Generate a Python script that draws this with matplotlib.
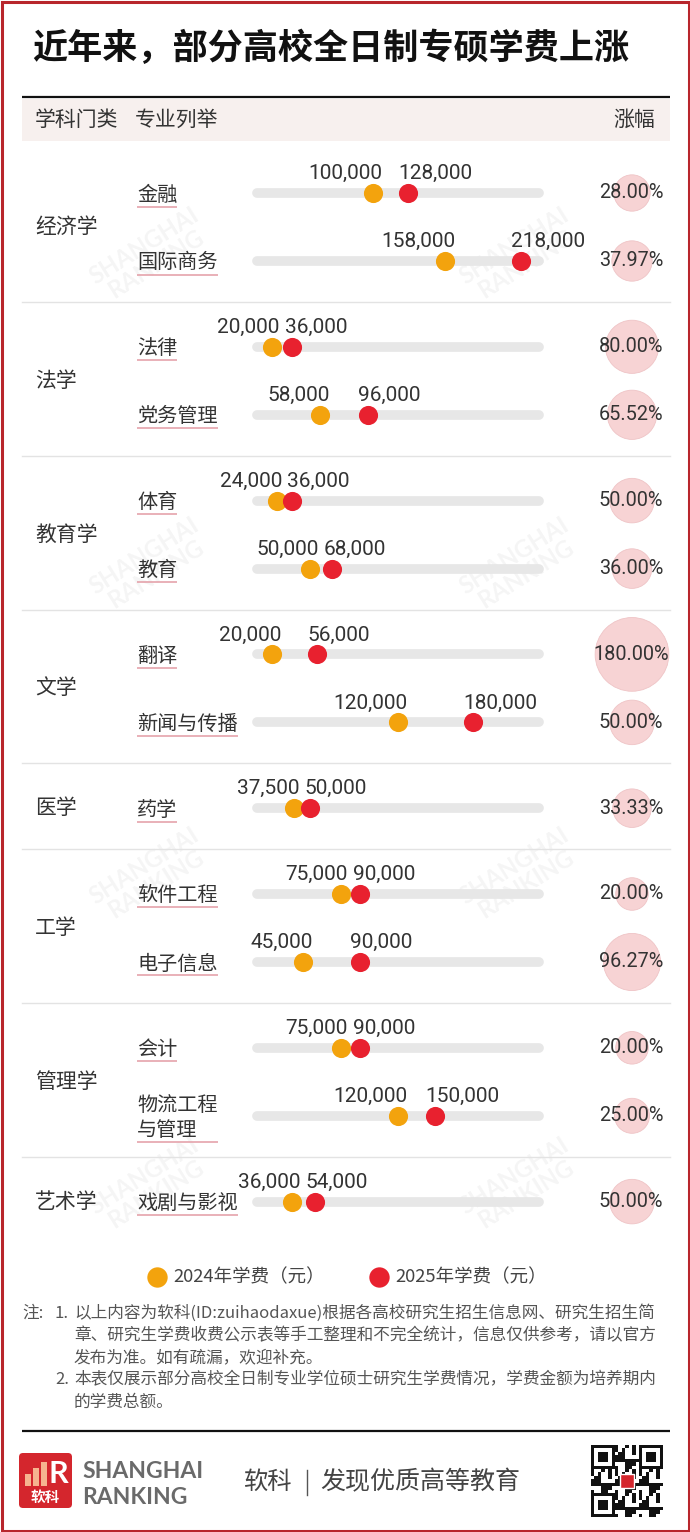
import matplotlib
matplotlib.use('Agg')
import matplotlib.pyplot as plt
from matplotlib.patches import FancyBboxPatch, Rectangle, Circle
import numpy as np

plt.rcParams['font.family'] = ['Noto Sans CJK SC', 'DejaVu Sans']

# ---------------- data ----------------
title = '近年来，部分高校全日制专硕学费上涨'
header_labels = ['学科门类', '专业列举', '涨幅']
groups = ['经济学', '经济学', '法学', '法学', '教育学', '教育学', '文学', '文学',
          '医学', '工学', '工学', '管理学', '管理学', '艺术学']
majors = ['金融', '国际商务', '法律', '党务管理', '体育', '教育', '翻译', '新闻与传播',
          '药学', '软件工程', '电子信息', '会计', '物流工程\n与管理', '戏剧与影视']
fee_2024 = [100000, 158000, 20000, 58000, 24000, 50000, 20000, 120000,
            37500, 75000, 45000, 75000, 120000, 36000]
fee_2025 = [128000, 218000, 36000, 96000, 36000, 68000, 56000, 180000,
            50000, 90000, 90000, 90000, 150000, 54000]
increase_pct = [28.00, 37.97, 80.00, 65.52, 50.00, 36.00, 180.00, 50.00,
                33.33, 20.00, 96.27, 20.00, 25.00, 50.00]
legend_labels = ['2024年学费（元）', '2025年学费（元）']
note_prefix = '注:'
notes = [('1.', ['以上内容为软科(ID:zuihaodaxue)根据各高校研究生招生信息网、研究生招生简',
                 '章、研究生学费收费公示表等手工整理和不完全统计，信息仅供参考，请以官方',
                 '发布为准。如有疏漏，欢迎补充。']),
         ('2.', ['本表仅展示部分高校全日制专业学位硕士研究生学费情况，学费金额为培养期内',
                 '的学费总额。'])]
footer_brand = ['SHANGHAI', 'RANKING']
footer_slogan = ['软科', '发现优质高等教育']

# ---------------- style ----------------
W, H = 690, 1532
C_ORANGE = '#f3a30d'
C_RED = '#e8212f'
C_TRACK = '#e7e7e7'
C_PINK = '#f7d3d4'
C_TEXT = '#333333'
C_BORDER = '#b8262c'

fig = plt.figure(figsize=(W / 100, H / 100), dpi=100)
fig.patch.set_facecolor('white')

ax = fig.add_axes([0, 0, 1, 1])
ax.set_xlim(0, W)
ax.set_ylim(H, 0)
ax.axis('off')

# border
ax.add_patch(Rectangle((1.5, 1.5), W - 3, H - 3, fill=False, edgecolor=C_BORDER, lw=2.2, zorder=20))

# title
ax.text(32, 48, title, fontsize=25.3, fontweight='bold', color='#111111', va='center', ha='left')

# header
ax.plot([22, 670], [97, 97], color='#111111', lw=1.6, solid_capstyle='butt')
ax.add_patch(Rectangle((22, 98.5), 648, 42, facecolor='#f7f0ee', edgecolor='none'))
ax.text(35, 120, header_labels[0], fontsize=15, color=C_TEXT, va='center')
ax.text(135, 120, header_labels[1], fontsize=15, color=C_TEXT, va='center')
ax.text(655, 120, header_labels[2], fontsize=15, color=C_TEXT, va='center', ha='right')

# row layout from group structure
row_y = []
y = 193
for i, g in enumerate(groups):
    if i > 0:
        y += 68 if g == groups[i - 1] else 85.8
    row_y.append(y)
row_y = np.array(row_y)

# watermarks
wm_y = [255, 565, 875, 1185]
for wy in wm_y:
    for wx in [150, 520]:
        ax.text(wx, wy, 'SHANGHAI\nRANKING', rotation=32, fontsize=17, fontweight='bold',
                color='#000000', alpha=0.045, ha='center', va='center', linespacing=0.95,
                family='Lato', zorder=0)

# group labels & separators
uniq = []
for g in groups:
    if g not in uniq:
        uniq.append(g)
for gi, g in enumerate(uniq):
    ys = row_y[[i for i, gg in enumerate(groups) if gg == g]]
    ax.text(35, ys.mean(), g, fontsize=15, color=C_TEXT, va='center', ha='left')
    if gi < len(uniq) - 1:
        sep = ys.max() + 41
        ax.plot([22, 670], [sep, sep], color='#e3e3e3', lw=1.0)

# major labels
major_texts = []
for yy, m in zip(row_y, majors):
    t = ax.text(137, yy + 2, m, fontsize=14.5, color=C_TEXT, va='center', ha='left', linespacing=1.25)
    major_texts.append(t)

# percent circles
for yy, p in zip(row_y, increase_pct):
    r = 6 + 2.3 * np.sqrt(p)
    ax.add_patch(Circle((632, yy), r, facecolor=C_PINK, edgecolor='#efc4c6', lw=0.6, zorder=2))
    ax.text(631, yy, f'{p:.2f}%', fontsize=14.3, color=C_TEXT, ha='center', va='center',
            family='Roboto', zorder=3)

# dumbbell axes (fee scale)
x0_px, x1_px = 246.8, 548.6
dax = fig.add_axes([x0_px / W, 0, (x1_px - x0_px) / W, 1])
dax.set_xlim(0, 240000)
dax.set_ylim(H, 0)
dax.axis('off')
dax.patch.set_alpha(0)

for yy in row_y:
    dax.plot([8200, 232500], [yy, yy], color=C_TRACK, lw=7, solid_capstyle='round', zorder=1)
dax.scatter(fee_2024, row_y, s=190, color=C_ORANGE, zorder=3, linewidths=0)
dax.scatter(fee_2025, row_y, s=190, color=C_RED, zorder=4, linewidths=0)
LBL_FS = 15
ann24, ann25 = [], []
for v, yy in zip(fee_2024, row_y):
    ann24.append(dax.annotate(f'{v:,}', (v, yy), xytext=(7, 14), textcoords='offset points',
                              ha='right', va='center', fontsize=LBL_FS, color=C_TEXT, family='Roboto'))
for v, yy in zip(fee_2025, row_y):
    ann25.append(dax.annotate(f'{v:,}', (v, yy), xytext=(-7, 14), textcoords='offset points',
                              ha='left', va='center', fontsize=LBL_FS, color=C_TEXT, family='Roboto'))

# legend
ax.scatter([157], [1277], s=215, color=C_ORANGE, linewidths=0)
ax.text(173, 1277, legend_labels[0], fontsize=13.3, color='#444444', va='center')
ax.scatter([379], [1277], s=215, color=C_RED, linewidths=0)
ax.text(395, 1277, legend_labels[1], fontsize=13.3, color='#444444', va='center')

# notes
ax.text(22, 1313, note_prefix, fontsize=12, color='#555555', va='center')
ly = 1313
for num, lines in notes:
    ax.text(55, ly, num, fontsize=12, color='#555555', va='center')
    for ln in lines:
        ax.text(74, ly, ln, fontsize=12, color='#555555', va='center')
        ly += 22.3

# footer line
ax.plot([22, 670], [1431, 1431], color='#111111', lw=1.6, solid_capstyle='butt')

# logo
ax.add_patch(FancyBboxPatch((19, 1453), 53, 55, boxstyle='round,pad=0,rounding_size=4',
                            facecolor='#d4262d', edgecolor='none'))
for bx, bh in zip([25, 33, 41], [12, 18, 24]):
    ax.add_patch(Rectangle((bx, 1486 - bh), 6, bh, facecolor='#f6b48f', edgecolor='none'))
ax.text(58, 1474, 'R', fontsize=22, fontweight='bold', color='white', ha='center', va='center', family='Lato')
ax.text(45.5, 1497, '软科', fontsize=10.5, fontweight='bold', color='white', ha='center', va='center')
ax.text(82, 1472, footer_brand[0], fontsize=16.5, fontweight='bold', color='#6a6a6a', va='center', family='Lato')
ax.text(82, 1497, footer_brand[1], fontsize=16.5, fontweight='bold', color='#6a6a6a', va='center', family='Lato')
ax.text(243, 1482, footer_slogan[0], fontsize=17.5, color='#444444', va='center')
ax.plot([307, 307], [1470, 1495], color='#555555', lw=1.0)
ax.text(320, 1482, footer_slogan[1], fontsize=18, color='#444444', va='center')

# QR-like mark
qx, qy, qs = 591, 1445, 72
n = 21
cell = qs / n
for i in range(n):
    for j in range(n):
        finder = (i < 7 and j < 7) or (i < 7 and j >= n - 7) or (i >= n - 7 and j < 7)
        if finder:
            a = i if i < 7 else i - (n - 7)
            b = j if j < 7 else j - (n - 7)
            on = (a in (0, 6) or b in (0, 6)) or (2 <= a <= 4 and 2 <= b <= 4)
        else:
            on = ((i * i + 3 * j + i * j) % 7) < 3
        if on:
            ax.add_patch(Rectangle((qx + j * cell, qy + i * cell), cell, cell,
                                   facecolor='#111111', edgecolor='none'))
ax.add_patch(Rectangle((qx + 29, qy + 29), 14, 14, facecolor='#d4262d', edgecolor='white', lw=1))

# resolve overlapping value labels, then underline major labels
fig.canvas.draw()
renderer = fig.canvas.get_renderer()
px2pt = 72 / fig.dpi
for a, b in zip(ann24, ann25):
    ba = a.get_window_extent(renderer)
    bb = b.get_window_extent(renderer)
    overlap = ba.x1 + 5 - bb.x0
    if overlap > 0:
        sh = overlap / 2 * px2pt
        a.xyann = (a.xyann[0] - sh, a.xyann[1])
        b.xyann = (b.xyann[0] + sh, b.xyann[1])

inv = ax.transData.inverted()
for t in major_texts:
    bbx = t.get_window_extent(renderer)
    (xa, ya), (xb, yb) = inv.transform([[bbx.x0, bbx.y0], [bbx.x1, bbx.y1]])
    ax.plot([xa, xb], [ya + 1, ya + 1], color='#e5a3ab', lw=1.2, solid_capstyle='butt')

fig.savefig('out.png', dpi=100, facecolor='white')
